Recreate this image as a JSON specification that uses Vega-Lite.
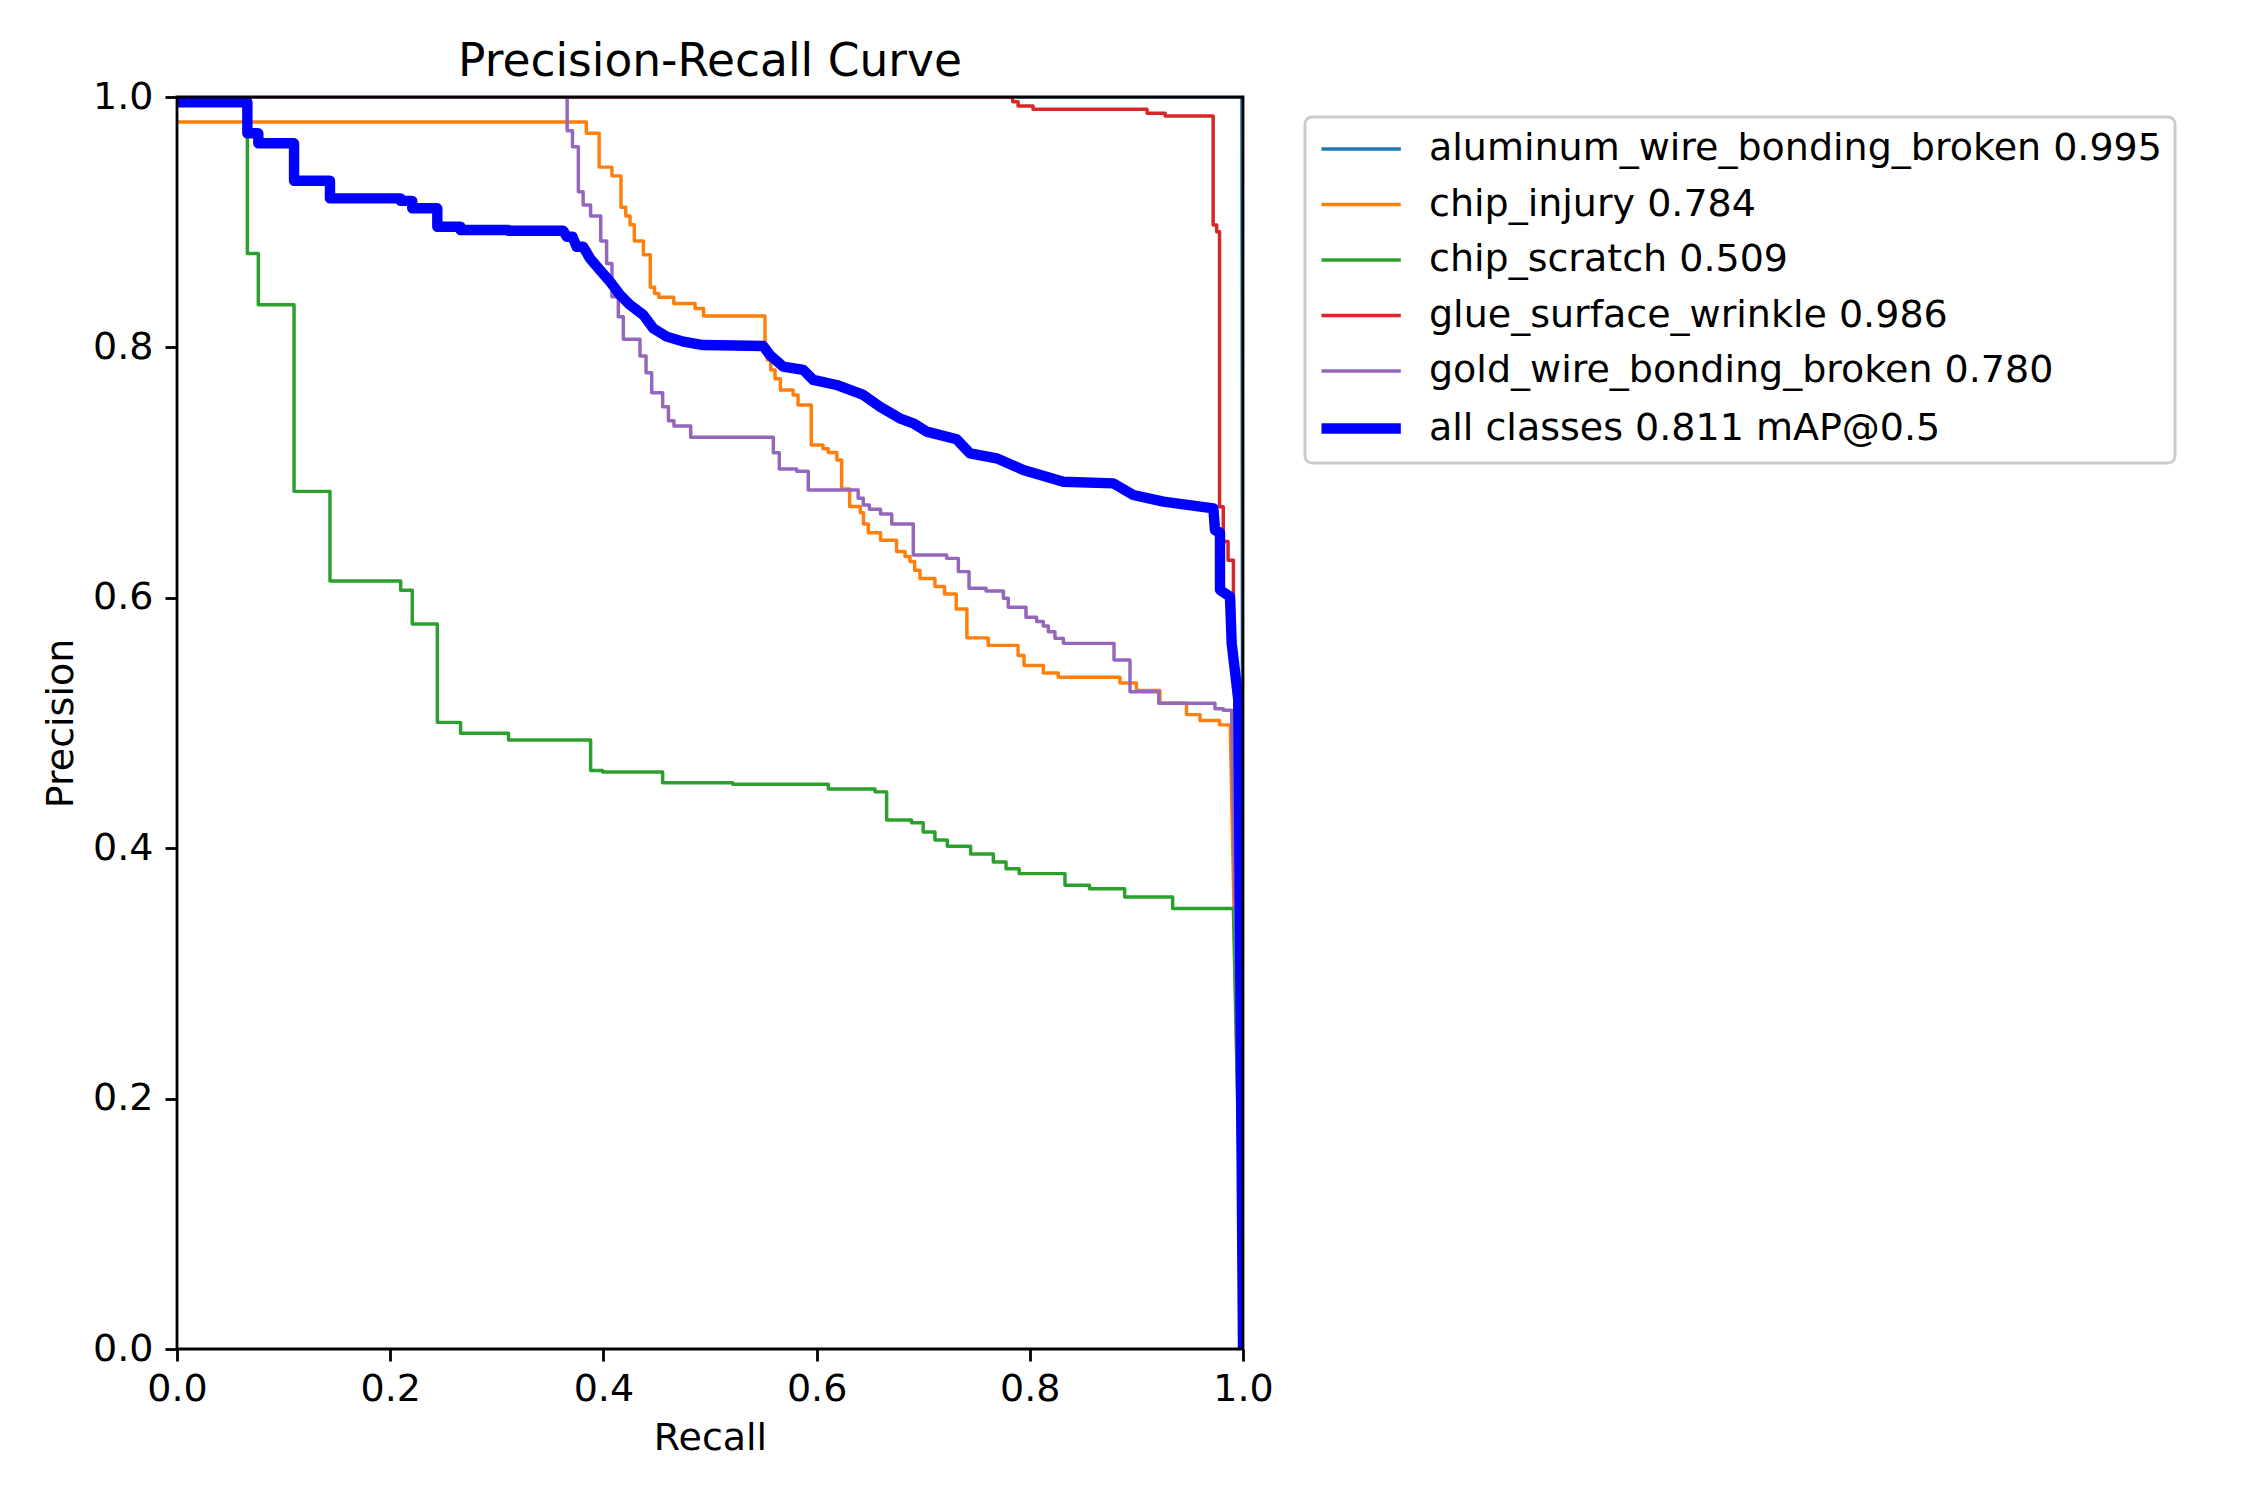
{
  "$schema": "https://vega.github.io/schema/vega-lite/v6.json",
  "width": 1066,
  "height": 1252,
  "autosize": {"type": "none"},
  "padding": {"left": 177, "top": 97, "right": 1007, "bottom": 151},
  "background": "white",
  "title": {"text": "Precision-Recall Curve", "fontSize": 45.5, "font": "DejaVu Sans", "fontWeight": "normal", "anchor": "middle", "baseline": "bottom", "offset": -53, "color": "black"},
  "config": {
    "view": {"stroke": null},
    "axis": {"grid": false, "domain": false, "ticks": true, "tickSize": 12, "tickWidth": 2.8, "tickColor": "black", "labelFont": "DejaVu Sans", "labelFontSize": 38, "labelColor": "black", "labelFlush": false, "labelOverlap": false, "titleFont": "DejaVu Sans", "titleFontSize": 38, "titleFontWeight": "normal", "titleColor": "black"},
    "axisX": {"labelPadding": 9, "titlePadding": 11},
    "axisY": {"labelPadding": 12, "titlePadding": 12}
  },
  "data": {"values": [
    {"curve": "aluminum_wire_bonding_broken 0.995", "recall": 0, "precision": 1},
    {"curve": "aluminum_wire_bonding_broken 0.995", "recall": 0.999, "precision": 1},
    {"curve": "aluminum_wire_bonding_broken 0.995", "recall": 1.0, "precision": 0},

    {"curve": "chip_injury 0.784", "recall": 0, "precision": 0.98},
    {"curve": "chip_injury 0.784", "recall": 0.384, "precision": 0.98},
    {"curve": "chip_injury 0.784", "recall": 0.384, "precision": 0.971},
    {"curve": "chip_injury 0.784", "recall": 0.396, "precision": 0.971},
    {"curve": "chip_injury 0.784", "recall": 0.396, "precision": 0.944},
    {"curve": "chip_injury 0.784", "recall": 0.408, "precision": 0.944},
    {"curve": "chip_injury 0.784", "recall": 0.408, "precision": 0.937},
    {"curve": "chip_injury 0.784", "recall": 0.4165, "precision": 0.937},
    {"curve": "chip_injury 0.784", "recall": 0.4165, "precision": 0.912},
    {"curve": "chip_injury 0.784", "recall": 0.421, "precision": 0.912},
    {"curve": "chip_injury 0.784", "recall": 0.421, "precision": 0.905},
    {"curve": "chip_injury 0.784", "recall": 0.425, "precision": 0.905},
    {"curve": "chip_injury 0.784", "recall": 0.425, "precision": 0.898},
    {"curve": "chip_injury 0.784", "recall": 0.429, "precision": 0.898},
    {"curve": "chip_injury 0.784", "recall": 0.429, "precision": 0.885},
    {"curve": "chip_injury 0.784", "recall": 0.4375, "precision": 0.885},
    {"curve": "chip_injury 0.784", "recall": 0.4375, "precision": 0.874},
    {"curve": "chip_injury 0.784", "recall": 0.444, "precision": 0.874},
    {"curve": "chip_injury 0.784", "recall": 0.444, "precision": 0.848},
    {"curve": "chip_injury 0.784", "recall": 0.448, "precision": 0.848},
    {"curve": "chip_injury 0.784", "recall": 0.448, "precision": 0.843},
    {"curve": "chip_injury 0.784", "recall": 0.452, "precision": 0.843},
    {"curve": "chip_injury 0.784", "recall": 0.452, "precision": 0.84},
    {"curve": "chip_injury 0.784", "recall": 0.466, "precision": 0.84},
    {"curve": "chip_injury 0.784", "recall": 0.466, "precision": 0.835},
    {"curve": "chip_injury 0.784", "recall": 0.486, "precision": 0.835},
    {"curve": "chip_injury 0.784", "recall": 0.486, "precision": 0.831},
    {"curve": "chip_injury 0.784", "recall": 0.494, "precision": 0.831},
    {"curve": "chip_injury 0.784", "recall": 0.494, "precision": 0.825},
    {"curve": "chip_injury 0.784", "recall": 0.5516, "precision": 0.825},
    {"curve": "chip_injury 0.784", "recall": 0.5516, "precision": 0.8},
    {"curve": "chip_injury 0.784", "recall": 0.554, "precision": 0.79},
    {"curve": "chip_injury 0.784", "recall": 0.557, "precision": 0.79},
    {"curve": "chip_injury 0.784", "recall": 0.557, "precision": 0.782},
    {"curve": "chip_injury 0.784", "recall": 0.561, "precision": 0.782},
    {"curve": "chip_injury 0.784", "recall": 0.561, "precision": 0.775},
    {"curve": "chip_injury 0.784", "recall": 0.566, "precision": 0.775},
    {"curve": "chip_injury 0.784", "recall": 0.566, "precision": 0.766},
    {"curve": "chip_injury 0.784", "recall": 0.578, "precision": 0.766},
    {"curve": "chip_injury 0.784", "recall": 0.578, "precision": 0.762},
    {"curve": "chip_injury 0.784", "recall": 0.5826, "precision": 0.762},
    {"curve": "chip_injury 0.784", "recall": 0.5826, "precision": 0.754},
    {"curve": "chip_injury 0.784", "recall": 0.595, "precision": 0.754},
    {"curve": "chip_injury 0.784", "recall": 0.595, "precision": 0.722},
    {"curve": "chip_injury 0.784", "recall": 0.606, "precision": 0.722},
    {"curve": "chip_injury 0.784", "recall": 0.606, "precision": 0.719},
    {"curve": "chip_injury 0.784", "recall": 0.611, "precision": 0.719},
    {"curve": "chip_injury 0.784", "recall": 0.611, "precision": 0.716},
    {"curve": "chip_injury 0.784", "recall": 0.619, "precision": 0.716},
    {"curve": "chip_injury 0.784", "recall": 0.619, "precision": 0.71},
    {"curve": "chip_injury 0.784", "recall": 0.6235, "precision": 0.71},
    {"curve": "chip_injury 0.784", "recall": 0.6235, "precision": 0.687},
    {"curve": "chip_injury 0.784", "recall": 0.631, "precision": 0.687},
    {"curve": "chip_injury 0.784", "recall": 0.631, "precision": 0.673},
    {"curve": "chip_injury 0.784", "recall": 0.641, "precision": 0.673},
    {"curve": "chip_injury 0.784", "recall": 0.641, "precision": 0.668},
    {"curve": "chip_injury 0.784", "recall": 0.644, "precision": 0.668},
    {"curve": "chip_injury 0.784", "recall": 0.644, "precision": 0.659},
    {"curve": "chip_injury 0.784", "recall": 0.6485, "precision": 0.659},
    {"curve": "chip_injury 0.784", "recall": 0.6485, "precision": 0.652},
    {"curve": "chip_injury 0.784", "recall": 0.66, "precision": 0.652},
    {"curve": "chip_injury 0.784", "recall": 0.66, "precision": 0.646},
    {"curve": "chip_injury 0.784", "recall": 0.675, "precision": 0.646},
    {"curve": "chip_injury 0.784", "recall": 0.675, "precision": 0.637},
    {"curve": "chip_injury 0.784", "recall": 0.683, "precision": 0.637},
    {"curve": "chip_injury 0.784", "recall": 0.683, "precision": 0.633},
    {"curve": "chip_injury 0.784", "recall": 0.6876, "precision": 0.633},
    {"curve": "chip_injury 0.784", "recall": 0.6876, "precision": 0.629},
    {"curve": "chip_injury 0.784", "recall": 0.692, "precision": 0.629},
    {"curve": "chip_injury 0.784", "recall": 0.692, "precision": 0.622},
    {"curve": "chip_injury 0.784", "recall": 0.697, "precision": 0.622},
    {"curve": "chip_injury 0.784", "recall": 0.697, "precision": 0.6155},
    {"curve": "chip_injury 0.784", "recall": 0.711, "precision": 0.6155},
    {"curve": "chip_injury 0.784", "recall": 0.711, "precision": 0.609},
    {"curve": "chip_injury 0.784", "recall": 0.72, "precision": 0.609},
    {"curve": "chip_injury 0.784", "recall": 0.72, "precision": 0.603},
    {"curve": "chip_injury 0.784", "recall": 0.731, "precision": 0.603},
    {"curve": "chip_injury 0.784", "recall": 0.731, "precision": 0.591},
    {"curve": "chip_injury 0.784", "recall": 0.741, "precision": 0.591},
    {"curve": "chip_injury 0.784", "recall": 0.741, "precision": 0.568},
    {"curve": "chip_injury 0.784", "recall": 0.761, "precision": 0.568},
    {"curve": "chip_injury 0.784", "recall": 0.761, "precision": 0.562},
    {"curve": "chip_injury 0.784", "recall": 0.789, "precision": 0.562},
    {"curve": "chip_injury 0.784", "recall": 0.789, "precision": 0.554},
    {"curve": "chip_injury 0.784", "recall": 0.7946, "precision": 0.554},
    {"curve": "chip_injury 0.784", "recall": 0.7946, "precision": 0.546},
    {"curve": "chip_injury 0.784", "recall": 0.8127, "precision": 0.546},
    {"curve": "chip_injury 0.784", "recall": 0.8127, "precision": 0.54},
    {"curve": "chip_injury 0.784", "recall": 0.8267, "precision": 0.54},
    {"curve": "chip_injury 0.784", "recall": 0.8267, "precision": 0.5365},
    {"curve": "chip_injury 0.784", "recall": 0.8846, "precision": 0.5365},
    {"curve": "chip_injury 0.784", "recall": 0.8846, "precision": 0.532},
    {"curve": "chip_injury 0.784", "recall": 0.9, "precision": 0.532},
    {"curve": "chip_injury 0.784", "recall": 0.9, "precision": 0.526},
    {"curve": "chip_injury 0.784", "recall": 0.922, "precision": 0.526},
    {"curve": "chip_injury 0.784", "recall": 0.922, "precision": 0.5157},
    {"curve": "chip_injury 0.784", "recall": 0.947, "precision": 0.5157},
    {"curve": "chip_injury 0.784", "recall": 0.947, "precision": 0.5067},
    {"curve": "chip_injury 0.784", "recall": 0.9597, "precision": 0.5067},
    {"curve": "chip_injury 0.784", "recall": 0.9597, "precision": 0.502},
    {"curve": "chip_injury 0.784", "recall": 0.978, "precision": 0.502},
    {"curve": "chip_injury 0.784", "recall": 0.978, "precision": 0.4985},
    {"curve": "chip_injury 0.784", "recall": 0.988, "precision": 0.4985},
    {"curve": "chip_injury 0.784", "recall": 1.0, "precision": 0},

    {"curve": "chip_scratch 0.509", "recall": 0, "precision": 1},
    {"curve": "chip_scratch 0.509", "recall": 0.066, "precision": 1},
    {"curve": "chip_scratch 0.509", "recall": 0.066, "precision": 0.875},
    {"curve": "chip_scratch 0.509", "recall": 0.0763, "precision": 0.875},
    {"curve": "chip_scratch 0.509", "recall": 0.0763, "precision": 0.834},
    {"curve": "chip_scratch 0.509", "recall": 0.1098, "precision": 0.834},
    {"curve": "chip_scratch 0.509", "recall": 0.1098, "precision": 0.685},
    {"curve": "chip_scratch 0.509", "recall": 0.1435, "precision": 0.685},
    {"curve": "chip_scratch 0.509", "recall": 0.1435, "precision": 0.6134},
    {"curve": "chip_scratch 0.509", "recall": 0.2098, "precision": 0.6134},
    {"curve": "chip_scratch 0.509", "recall": 0.2098, "precision": 0.606},
    {"curve": "chip_scratch 0.509", "recall": 0.2207, "precision": 0.606},
    {"curve": "chip_scratch 0.509", "recall": 0.2207, "precision": 0.579},
    {"curve": "chip_scratch 0.509", "recall": 0.2442, "precision": 0.579},
    {"curve": "chip_scratch 0.509", "recall": 0.2442, "precision": 0.5005},
    {"curve": "chip_scratch 0.509", "recall": 0.266, "precision": 0.5005},
    {"curve": "chip_scratch 0.509", "recall": 0.266, "precision": 0.4918},
    {"curve": "chip_scratch 0.509", "recall": 0.311, "precision": 0.4918},
    {"curve": "chip_scratch 0.509", "recall": 0.311, "precision": 0.4864},
    {"curve": "chip_scratch 0.509", "recall": 0.388, "precision": 0.4864},
    {"curve": "chip_scratch 0.509", "recall": 0.388, "precision": 0.462},
    {"curve": "chip_scratch 0.509", "recall": 0.3993, "precision": 0.462},
    {"curve": "chip_scratch 0.509", "recall": 0.3993, "precision": 0.4609},
    {"curve": "chip_scratch 0.509", "recall": 0.4556, "precision": 0.4609},
    {"curve": "chip_scratch 0.509", "recall": 0.4556, "precision": 0.4523},
    {"curve": "chip_scratch 0.509", "recall": 0.5213, "precision": 0.4523},
    {"curve": "chip_scratch 0.509", "recall": 0.5213, "precision": 0.451},
    {"curve": "chip_scratch 0.509", "recall": 0.611, "precision": 0.451},
    {"curve": "chip_scratch 0.509", "recall": 0.611, "precision": 0.4473},
    {"curve": "chip_scratch 0.509", "recall": 0.6548, "precision": 0.4473},
    {"curve": "chip_scratch 0.509", "recall": 0.6548, "precision": 0.445},
    {"curve": "chip_scratch 0.509", "recall": 0.6657, "precision": 0.445},
    {"curve": "chip_scratch 0.509", "recall": 0.6657, "precision": 0.4225},
    {"curve": "chip_scratch 0.509", "recall": 0.689, "precision": 0.4225},
    {"curve": "chip_scratch 0.509", "recall": 0.689, "precision": 0.4204},
    {"curve": "chip_scratch 0.509", "recall": 0.7, "precision": 0.4204},
    {"curve": "chip_scratch 0.509", "recall": 0.7, "precision": 0.413},
    {"curve": "chip_scratch 0.509", "recall": 0.711, "precision": 0.413},
    {"curve": "chip_scratch 0.509", "recall": 0.711, "precision": 0.4066},
    {"curve": "chip_scratch 0.509", "recall": 0.7226, "precision": 0.4066},
    {"curve": "chip_scratch 0.509", "recall": 0.7226, "precision": 0.4015},
    {"curve": "chip_scratch 0.509", "recall": 0.7445, "precision": 0.4015},
    {"curve": "chip_scratch 0.509", "recall": 0.7445, "precision": 0.3954},
    {"curve": "chip_scratch 0.509", "recall": 0.7658, "precision": 0.3954},
    {"curve": "chip_scratch 0.509", "recall": 0.7658, "precision": 0.389},
    {"curve": "chip_scratch 0.509", "recall": 0.7777, "precision": 0.389},
    {"curve": "chip_scratch 0.509", "recall": 0.7777, "precision": 0.3836},
    {"curve": "chip_scratch 0.509", "recall": 0.79, "precision": 0.3836},
    {"curve": "chip_scratch 0.509", "recall": 0.79, "precision": 0.3797},
    {"curve": "chip_scratch 0.509", "recall": 0.833, "precision": 0.3797},
    {"curve": "chip_scratch 0.509", "recall": 0.833, "precision": 0.3704},
    {"curve": "chip_scratch 0.509", "recall": 0.856, "precision": 0.3704},
    {"curve": "chip_scratch 0.509", "recall": 0.856, "precision": 0.3676},
    {"curve": "chip_scratch 0.509", "recall": 0.889, "precision": 0.3676},
    {"curve": "chip_scratch 0.509", "recall": 0.889, "precision": 0.3611},
    {"curve": "chip_scratch 0.509", "recall": 0.934, "precision": 0.3611},
    {"curve": "chip_scratch 0.509", "recall": 0.934, "precision": 0.3518},
    {"curve": "chip_scratch 0.509", "recall": 0.991, "precision": 0.3518},
    {"curve": "chip_scratch 0.509", "recall": 1.0, "precision": 0},

    {"curve": "glue_surface_wrinkle 0.986", "recall": 0, "precision": 1},
    {"curve": "glue_surface_wrinkle 0.986", "recall": 0.784, "precision": 1},
    {"curve": "glue_surface_wrinkle 0.986", "recall": 0.784, "precision": 0.9962},
    {"curve": "glue_surface_wrinkle 0.986", "recall": 0.789, "precision": 0.9962},
    {"curve": "glue_surface_wrinkle 0.986", "recall": 0.789, "precision": 0.9928},
    {"curve": "glue_surface_wrinkle 0.986", "recall": 0.803, "precision": 0.9928},
    {"curve": "glue_surface_wrinkle 0.986", "recall": 0.803, "precision": 0.9902},
    {"curve": "glue_surface_wrinkle 0.986", "recall": 0.91, "precision": 0.9902},
    {"curve": "glue_surface_wrinkle 0.986", "recall": 0.91, "precision": 0.987},
    {"curve": "glue_surface_wrinkle 0.986", "recall": 0.927, "precision": 0.987},
    {"curve": "glue_surface_wrinkle 0.986", "recall": 0.927, "precision": 0.9848},
    {"curve": "glue_surface_wrinkle 0.986", "recall": 0.972, "precision": 0.9848},
    {"curve": "glue_surface_wrinkle 0.986", "recall": 0.972, "precision": 0.8978},
    {"curve": "glue_surface_wrinkle 0.986", "recall": 0.9753, "precision": 0.8978},
    {"curve": "glue_surface_wrinkle 0.986", "recall": 0.9753, "precision": 0.8924},
    {"curve": "glue_surface_wrinkle 0.986", "recall": 0.978, "precision": 0.8924},
    {"curve": "glue_surface_wrinkle 0.986", "recall": 0.978, "precision": 0.6727},
    {"curve": "glue_surface_wrinkle 0.986", "recall": 0.9815, "precision": 0.6727},
    {"curve": "glue_surface_wrinkle 0.986", "recall": 0.9815, "precision": 0.645},
    {"curve": "glue_surface_wrinkle 0.986", "recall": 0.986, "precision": 0.645},
    {"curve": "glue_surface_wrinkle 0.986", "recall": 0.986, "precision": 0.63},
    {"curve": "glue_surface_wrinkle 0.986", "recall": 0.991, "precision": 0.63},
    {"curve": "glue_surface_wrinkle 0.986", "recall": 0.991, "precision": 0.601},
    {"curve": "glue_surface_wrinkle 0.986", "recall": 1.0, "precision": 0},

    {"curve": "gold_wire_bonding_broken 0.780", "recall": 0, "precision": 1},
    {"curve": "gold_wire_bonding_broken 0.780", "recall": 0.366, "precision": 1},
    {"curve": "gold_wire_bonding_broken 0.780", "recall": 0.366, "precision": 0.973},
    {"curve": "gold_wire_bonding_broken 0.780", "recall": 0.371, "precision": 0.973},
    {"curve": "gold_wire_bonding_broken 0.780", "recall": 0.371, "precision": 0.9603},
    {"curve": "gold_wire_bonding_broken 0.780", "recall": 0.3765, "precision": 0.9603},
    {"curve": "gold_wire_bonding_broken 0.780", "recall": 0.3765, "precision": 0.9244},
    {"curve": "gold_wire_bonding_broken 0.780", "recall": 0.381, "precision": 0.9244},
    {"curve": "gold_wire_bonding_broken 0.780", "recall": 0.381, "precision": 0.9137},
    {"curve": "gold_wire_bonding_broken 0.780", "recall": 0.388, "precision": 0.9137},
    {"curve": "gold_wire_bonding_broken 0.780", "recall": 0.388, "precision": 0.905},
    {"curve": "gold_wire_bonding_broken 0.780", "recall": 0.3975, "precision": 0.905},
    {"curve": "gold_wire_bonding_broken 0.780", "recall": 0.3975, "precision": 0.885},
    {"curve": "gold_wire_bonding_broken 0.780", "recall": 0.403, "precision": 0.885},
    {"curve": "gold_wire_bonding_broken 0.780", "recall": 0.403, "precision": 0.867},
    {"curve": "gold_wire_bonding_broken 0.780", "recall": 0.408, "precision": 0.867},
    {"curve": "gold_wire_bonding_broken 0.780", "recall": 0.408, "precision": 0.8405},
    {"curve": "gold_wire_bonding_broken 0.780", "recall": 0.414, "precision": 0.8405},
    {"curve": "gold_wire_bonding_broken 0.780", "recall": 0.414, "precision": 0.8245},
    {"curve": "gold_wire_bonding_broken 0.780", "recall": 0.4187, "precision": 0.8245},
    {"curve": "gold_wire_bonding_broken 0.780", "recall": 0.4187, "precision": 0.8065},
    {"curve": "gold_wire_bonding_broken 0.780", "recall": 0.4343, "precision": 0.8065},
    {"curve": "gold_wire_bonding_broken 0.780", "recall": 0.4343, "precision": 0.7931},
    {"curve": "gold_wire_bonding_broken 0.780", "recall": 0.44, "precision": 0.7931},
    {"curve": "gold_wire_bonding_broken 0.780", "recall": 0.44, "precision": 0.7798},
    {"curve": "gold_wire_bonding_broken 0.780", "recall": 0.4453, "precision": 0.7798},
    {"curve": "gold_wire_bonding_broken 0.780", "recall": 0.4453, "precision": 0.7638},
    {"curve": "gold_wire_bonding_broken 0.780", "recall": 0.4556, "precision": 0.7638},
    {"curve": "gold_wire_bonding_broken 0.780", "recall": 0.4556, "precision": 0.7526},
    {"curve": "gold_wire_bonding_broken 0.780", "recall": 0.461, "precision": 0.7526},
    {"curve": "gold_wire_bonding_broken 0.780", "recall": 0.461, "precision": 0.7415},
    {"curve": "gold_wire_bonding_broken 0.780", "recall": 0.4662, "precision": 0.7415},
    {"curve": "gold_wire_bonding_broken 0.780", "recall": 0.4662, "precision": 0.7372},
    {"curve": "gold_wire_bonding_broken 0.780", "recall": 0.4819, "precision": 0.7372},
    {"curve": "gold_wire_bonding_broken 0.780", "recall": 0.4819, "precision": 0.7282},
    {"curve": "gold_wire_bonding_broken 0.780", "recall": 0.5594, "precision": 0.7282},
    {"curve": "gold_wire_bonding_broken 0.780", "recall": 0.5594, "precision": 0.7159},
    {"curve": "gold_wire_bonding_broken 0.780", "recall": 0.565, "precision": 0.7159},
    {"curve": "gold_wire_bonding_broken 0.780", "recall": 0.565, "precision": 0.7029},
    {"curve": "gold_wire_bonding_broken 0.780", "recall": 0.5813, "precision": 0.7029},
    {"curve": "gold_wire_bonding_broken 0.780", "recall": 0.5813, "precision": 0.701},
    {"curve": "gold_wire_bonding_broken 0.780", "recall": 0.5922, "precision": 0.701},
    {"curve": "gold_wire_bonding_broken 0.780", "recall": 0.5922, "precision": 0.6861},
    {"curve": "gold_wire_bonding_broken 0.780", "recall": 0.639, "precision": 0.6861},
    {"curve": "gold_wire_bonding_broken 0.780", "recall": 0.639, "precision": 0.6795},
    {"curve": "gold_wire_bonding_broken 0.780", "recall": 0.6438, "precision": 0.6795},
    {"curve": "gold_wire_bonding_broken 0.780", "recall": 0.6438, "precision": 0.6741},
    {"curve": "gold_wire_bonding_broken 0.780", "recall": 0.6495, "precision": 0.6741},
    {"curve": "gold_wire_bonding_broken 0.780", "recall": 0.6495, "precision": 0.6707},
    {"curve": "gold_wire_bonding_broken 0.780", "recall": 0.66, "precision": 0.6707},
    {"curve": "gold_wire_bonding_broken 0.780", "recall": 0.66, "precision": 0.6669},
    {"curve": "gold_wire_bonding_broken 0.780", "recall": 0.6705, "precision": 0.6669},
    {"curve": "gold_wire_bonding_broken 0.780", "recall": 0.6705, "precision": 0.6589},
    {"curve": "gold_wire_bonding_broken 0.780", "recall": 0.6907, "precision": 0.6589},
    {"curve": "gold_wire_bonding_broken 0.780", "recall": 0.6907, "precision": 0.6342},
    {"curve": "gold_wire_bonding_broken 0.780", "recall": 0.722, "precision": 0.6342},
    {"curve": "gold_wire_bonding_broken 0.780", "recall": 0.722, "precision": 0.6315},
    {"curve": "gold_wire_bonding_broken 0.780", "recall": 0.733, "precision": 0.6315},
    {"curve": "gold_wire_bonding_broken 0.780", "recall": 0.733, "precision": 0.6209},
    {"curve": "gold_wire_bonding_broken 0.780", "recall": 0.743, "precision": 0.6209},
    {"curve": "gold_wire_bonding_broken 0.780", "recall": 0.743, "precision": 0.6076},
    {"curve": "gold_wire_bonding_broken 0.780", "recall": 0.759, "precision": 0.6076},
    {"curve": "gold_wire_bonding_broken 0.780", "recall": 0.759, "precision": 0.6055},
    {"curve": "gold_wire_bonding_broken 0.780", "recall": 0.7752, "precision": 0.6055},
    {"curve": "gold_wire_bonding_broken 0.780", "recall": 0.7752, "precision": 0.5996},
    {"curve": "gold_wire_bonding_broken 0.780", "recall": 0.7798, "precision": 0.5996},
    {"curve": "gold_wire_bonding_broken 0.780", "recall": 0.7798, "precision": 0.5924},
    {"curve": "gold_wire_bonding_broken 0.780", "recall": 0.7964, "precision": 0.5924},
    {"curve": "gold_wire_bonding_broken 0.780", "recall": 0.7964, "precision": 0.5844},
    {"curve": "gold_wire_bonding_broken 0.780", "recall": 0.8064, "precision": 0.5844},
    {"curve": "gold_wire_bonding_broken 0.780", "recall": 0.8064, "precision": 0.581},
    {"curve": "gold_wire_bonding_broken 0.780", "recall": 0.8127, "precision": 0.581},
    {"curve": "gold_wire_bonding_broken 0.780", "recall": 0.8127, "precision": 0.5775},
    {"curve": "gold_wire_bonding_broken 0.780", "recall": 0.8174, "precision": 0.5775},
    {"curve": "gold_wire_bonding_broken 0.780", "recall": 0.8174, "precision": 0.5729},
    {"curve": "gold_wire_bonding_broken 0.780", "recall": 0.8236, "precision": 0.5729},
    {"curve": "gold_wire_bonding_broken 0.780", "recall": 0.8236, "precision": 0.5676},
    {"curve": "gold_wire_bonding_broken 0.780", "recall": 0.8315, "precision": 0.5676},
    {"curve": "gold_wire_bonding_broken 0.780", "recall": 0.8315, "precision": 0.5636},
    {"curve": "gold_wire_bonding_broken 0.780", "recall": 0.879, "precision": 0.5636},
    {"curve": "gold_wire_bonding_broken 0.780", "recall": 0.879, "precision": 0.5503},
    {"curve": "gold_wire_bonding_broken 0.780", "recall": 0.894, "precision": 0.5503},
    {"curve": "gold_wire_bonding_broken 0.780", "recall": 0.894, "precision": 0.525},
    {"curve": "gold_wire_bonding_broken 0.780", "recall": 0.921, "precision": 0.525},
    {"curve": "gold_wire_bonding_broken 0.780", "recall": 0.921, "precision": 0.5157},
    {"curve": "gold_wire_bonding_broken 0.780", "recall": 0.9737, "precision": 0.5157},
    {"curve": "gold_wire_bonding_broken 0.780", "recall": 0.9737, "precision": 0.5113},
    {"curve": "gold_wire_bonding_broken 0.780", "recall": 0.9815, "precision": 0.5113},
    {"curve": "gold_wire_bonding_broken 0.780", "recall": 0.9815, "precision": 0.5102},
    {"curve": "gold_wire_bonding_broken 0.780", "recall": 0.9893, "precision": 0.5102},
    {"curve": "gold_wire_bonding_broken 0.780", "recall": 1.0, "precision": 0},

    {"curve": "all classes 0.811 mAP@0.5", "recall": 0, "precision": 0.9958},
    {"curve": "all classes 0.811 mAP@0.5", "recall": 0.066, "precision": 0.9958},
    {"curve": "all classes 0.811 mAP@0.5", "recall": 0.066, "precision": 0.971},
    {"curve": "all classes 0.811 mAP@0.5", "recall": 0.0763, "precision": 0.971},
    {"curve": "all classes 0.811 mAP@0.5", "recall": 0.0763, "precision": 0.963},
    {"curve": "all classes 0.811 mAP@0.5", "recall": 0.1098, "precision": 0.963},
    {"curve": "all classes 0.811 mAP@0.5", "recall": 0.1098, "precision": 0.9331},
    {"curve": "all classes 0.811 mAP@0.5", "recall": 0.1435, "precision": 0.9331},
    {"curve": "all classes 0.811 mAP@0.5", "recall": 0.1435, "precision": 0.919},
    {"curve": "all classes 0.811 mAP@0.5", "recall": 0.2098, "precision": 0.919},
    {"curve": "all classes 0.811 mAP@0.5", "recall": 0.2098, "precision": 0.917},
    {"curve": "all classes 0.811 mAP@0.5", "recall": 0.2207, "precision": 0.917},
    {"curve": "all classes 0.811 mAP@0.5", "recall": 0.2207, "precision": 0.9111},
    {"curve": "all classes 0.811 mAP@0.5", "recall": 0.2442, "precision": 0.9111},
    {"curve": "all classes 0.811 mAP@0.5", "recall": 0.2442, "precision": 0.8964},
    {"curve": "all classes 0.811 mAP@0.5", "recall": 0.266, "precision": 0.8964},
    {"curve": "all classes 0.811 mAP@0.5", "recall": 0.266, "precision": 0.8938},
    {"curve": "all classes 0.811 mAP@0.5", "recall": 0.311, "precision": 0.8938},
    {"curve": "all classes 0.811 mAP@0.5", "recall": 0.311, "precision": 0.8932},
    {"curve": "all classes 0.811 mAP@0.5", "recall": 0.3624, "precision": 0.8932},
    {"curve": "all classes 0.811 mAP@0.5", "recall": 0.3656, "precision": 0.8884},
    {"curve": "all classes 0.811 mAP@0.5", "recall": 0.371, "precision": 0.8884},
    {"curve": "all classes 0.811 mAP@0.5", "recall": 0.3749, "precision": 0.8804},
    {"curve": "all classes 0.811 mAP@0.5", "recall": 0.381, "precision": 0.8804},
    {"curve": "all classes 0.811 mAP@0.5", "recall": 0.3874, "precision": 0.8712},
    {"curve": "all classes 0.811 mAP@0.5", "recall": 0.3968, "precision": 0.8618},
    {"curve": "all classes 0.811 mAP@0.5", "recall": 0.4062, "precision": 0.8525},
    {"curve": "all classes 0.811 mAP@0.5", "recall": 0.4156, "precision": 0.8419},
    {"curve": "all classes 0.811 mAP@0.5", "recall": 0.425, "precision": 0.8339},
    {"curve": "all classes 0.811 mAP@0.5", "recall": 0.4375, "precision": 0.8259},
    {"curve": "all classes 0.811 mAP@0.5", "recall": 0.4468, "precision": 0.8152},
    {"curve": "all classes 0.811 mAP@0.5", "recall": 0.4594, "precision": 0.8086},
    {"curve": "all classes 0.811 mAP@0.5", "recall": 0.475, "precision": 0.8046},
    {"curve": "all classes 0.811 mAP@0.5", "recall": 0.4937, "precision": 0.8019},
    {"curve": "all classes 0.811 mAP@0.5", "recall": 0.55, "precision": 0.8011},
    {"curve": "all classes 0.811 mAP@0.5", "recall": 0.5563, "precision": 0.7939},
    {"curve": "all classes 0.811 mAP@0.5", "recall": 0.5687, "precision": 0.7846},
    {"curve": "all classes 0.811 mAP@0.5", "recall": 0.5875, "precision": 0.782},
    {"curve": "all classes 0.811 mAP@0.5", "recall": 0.5969, "precision": 0.774},
    {"curve": "all classes 0.811 mAP@0.5", "recall": 0.6188, "precision": 0.77},
    {"curve": "all classes 0.811 mAP@0.5", "recall": 0.6438, "precision": 0.762},
    {"curve": "all classes 0.811 mAP@0.5", "recall": 0.6595, "precision": 0.7526},
    {"curve": "all classes 0.811 mAP@0.5", "recall": 0.678, "precision": 0.7434},
    {"curve": "all classes 0.811 mAP@0.5", "recall": 0.6907, "precision": 0.7394},
    {"curve": "all classes 0.811 mAP@0.5", "recall": 0.7033, "precision": 0.7327},
    {"curve": "all classes 0.811 mAP@0.5", "recall": 0.7314, "precision": 0.7266},
    {"curve": "all classes 0.811 mAP@0.5", "recall": 0.7439, "precision": 0.7154},
    {"curve": "all classes 0.811 mAP@0.5", "recall": 0.7689, "precision": 0.7114},
    {"curve": "all classes 0.811 mAP@0.5", "recall": 0.7939, "precision": 0.7021},
    {"curve": "all classes 0.811 mAP@0.5", "recall": 0.8315, "precision": 0.6927},
    {"curve": "all classes 0.811 mAP@0.5", "recall": 0.8784, "precision": 0.6914},
    {"curve": "all classes 0.811 mAP@0.5", "recall": 0.8971, "precision": 0.6821},
    {"curve": "all classes 0.811 mAP@0.5", "recall": 0.9253, "precision": 0.6768},
    {"curve": "all classes 0.811 mAP@0.5", "recall": 0.9722, "precision": 0.6715},
    {"curve": "all classes 0.811 mAP@0.5", "recall": 0.9737, "precision": 0.6541},
    {"curve": "all classes 0.811 mAP@0.5", "recall": 0.9784, "precision": 0.652},
    {"curve": "all classes 0.811 mAP@0.5", "recall": 0.9784, "precision": 0.6062},
    {"curve": "all classes 0.811 mAP@0.5", "recall": 0.9878, "precision": 0.6009},
    {"curve": "all classes 0.811 mAP@0.5", "recall": 0.9894, "precision": 0.5636},
    {"curve": "all classes 0.811 mAP@0.5", "recall": 0.9956, "precision": 0.5184},
    {"curve": "all classes 0.811 mAP@0.5", "recall": 1.0, "precision": 0}
  ]},
  "layer": [
    {
      "transform": [{"filter": "datum.curve !== 'all classes 0.811 mAP@0.5'"}],
      "mark": {"type": "line", "strokeWidth": 3.47, "clip": true, "strokeJoin": "round"},
      "encoding": {
        "x": {"field": "recall", "type": "quantitative", "scale": {"domain": [0, 1], "nice": false, "zero": false}, "axis": {"title": "Recall", "values": [0, 0.2, 0.4, 0.6, 0.8, 1.0], "format": ".1f"}},
        "y": {"field": "precision", "type": "quantitative", "scale": {"domain": [0, 1], "nice": false, "zero": false}, "axis": {"title": "Precision", "values": [0, 0.2, 0.4, 0.6, 0.8, 1.0], "format": ".1f"}},
        "color": {"field": "curve", "type": "nominal",
          "scale": {"domain": ["aluminum_wire_bonding_broken 0.995", "chip_injury 0.784", "chip_scratch 0.509", "glue_surface_wrinkle 0.986", "gold_wire_bonding_broken 0.780", "all classes 0.811 mAP@0.5"], "range": ["#1f77b4", "#ff7f0e", "#2ca02c", "#d62728", "#9467bd", "#0000ff"]},
          "legend": {"orient": "none", "legendX": 1128, "legendY": 20, "title": null, "symbolType": "M-1.35,0H5.55", "symbolSize": 529, "symbolStrokeWidth": 3.47, "labelFont": "DejaVu Sans", "labelFontSize": 38, "labelColor": "black", "labelOffset": 73, "labelLimit": 0, "rowPadding": 17.5, "padding": 13, "strokeColor": "#cccccc", "fillColor": "white", "cornerRadius": 7,
            "encode": {"symbols": {"update": {"strokeWidth": {"signal": "datum.value === 'all classes 0.811 mAP@0.5' ? 10.4 : 3.47"}}}, "legend": {"update": {"strokeWidth": {"value": 3}}}}}
        },
        "order": {"value": null}
      }
    },
    {
      "transform": [{"filter": "datum.curve === 'all classes 0.811 mAP@0.5'"}],
      "mark": {"type": "line", "strokeWidth": 10.4, "clip": true, "strokeJoin": "round"},
      "encoding": {
        "x": {"field": "recall", "type": "quantitative"},
        "y": {"field": "precision", "type": "quantitative"},
        "color": {"field": "curve", "type": "nominal"},
        "order": {"value": null}
      }
    },
    {
      "data": {"values": [{"frame": "axes"}]},
      "mark": {"type": "rect", "fill": null, "fillOpacity": 0, "stroke": "black", "strokeWidth": 2.8},
      "encoding": {
        "x": {"datum": 0},
        "x2": {"datum": 1},
        "y": {"datum": 0},
        "y2": {"datum": 1}
      }
    }
  ]
}
